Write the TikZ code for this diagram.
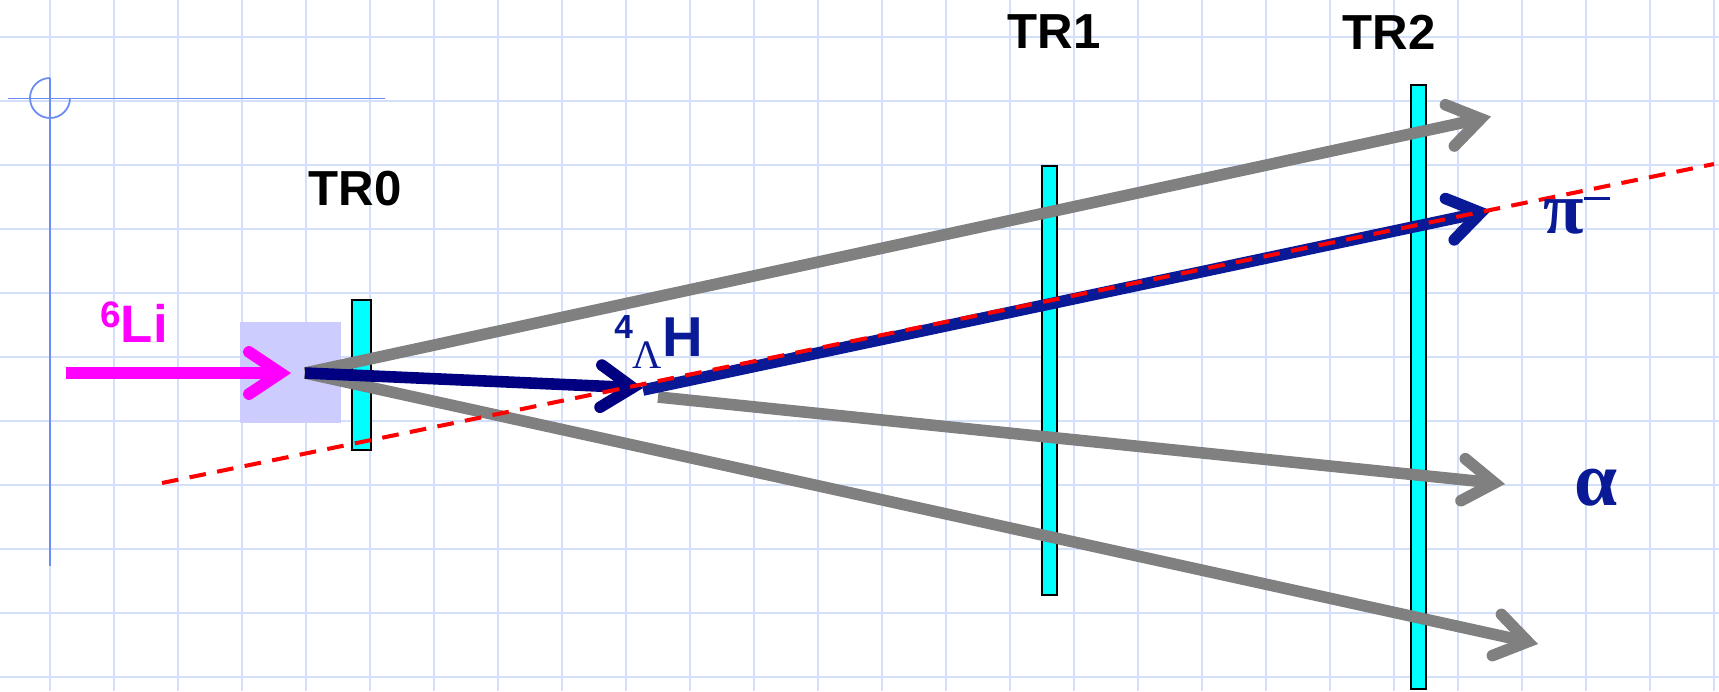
\documentclass[tikz,border=0pt]{standalone}
\usepackage{fontspec}
\setmainfont{Liberation Sans}
\newfontfamily\greekfont{Liberation Serif}
\usetikzlibrary{arrows.meta}
\definecolor{gridblue}{HTML}{D4DFFC}
\definecolor{axisblue}{HTML}{6B8CF5}
\definecolor{labelblue}{HTML}{0A1A96}
\definecolor{targetblue}{HTML}{CCCCFF}
\definecolor{foilcyan}{HTML}{00FFFF}
\definecolor{beammagenta}{HTML}{FF00FF}
\definecolor{hypernavy}{HTML}{000080}
\definecolor{fitred}{HTML}{FF0000}
\definecolor{trackgray}{HTML}{808080}
\tikzset{
  foil/.style={draw=black, line width=1.1pt, fill=foilcyan, inner sep=0pt, minimum width=0.31cm},
  track/.style={line width=6.6pt, -{Straight Barb[length=18pt, width=24pt, line cap=round]}},
  trlabel/.style={inner sep=0pt, font=\fontsize{28}{30}\selectfont\bfseries}
}
\begin{document}
\begin{tikzpicture}[x=0.02cm, y=-0.02cm]
\useasboundingbox (0,0) rectangle (1719,691);
% squared paper
\foreach \gx in {0,...,26} \draw[gridblue, line width=1.2pt] (50+64*\gx,0) -- (50+64*\gx,691);
\foreach \gy in {0,...,10} \draw[gridblue, line width=1.2pt] (0,37+64*\gy) -- (1719,37+64*\gy);
% origin mark
\draw[axisblue, line width=1pt] (8,98.5) -- (385,98.5);
\draw[axisblue, line width=1pt] (50,78) -- (50,566);
\draw[axisblue, line width=1pt] (50,78) arc[start angle=270, end angle=0, radius=20];
% target and trackers
\node[fill=targetblue, inner sep=0pt, minimum width=2.02cm, minimum height=2.02cm] (target) at (290.5,372.5) {};
\node[foil, minimum width=0.38cm, minimum height=3cm] (trzero) at (361.5,375) {};
\node[foil, minimum height=8.58cm] (trone) at (1049.5,380.5) {};
\node[foil, minimum height=12.08cm] (trtwo) at (1418.5,387) {};
\coordinate (vertex) at (305,373);
\coordinate (beamstart) at (66,373);
\coordinate (beamtip) at (291,373);
\coordinate (hypertip) at (643,388);
\coordinate (pionstart) at (643,390);
\coordinate (piontip) at (1491,210.5);
\coordinate (alphastart) at (658,397);
\coordinate (alphatip) at (1505,484);
\coordinate (uppertip) at (1491,116.5);
\coordinate (lowertip) at (1538,644);
\coordinate (fitstart) at (162,483);
\coordinate (fitend) at (1714,164);
% tracks
\draw[track, trackgray] (vertex) -- (uppertip);
\draw[track, trackgray] (vertex) -- (lowertip);
\draw[track, trackgray] (alphastart) -- (alphatip);
\draw[track, beammagenta] (beamstart) -- (beamtip);
\draw[track, labelblue] (pionstart) -- (piontip);
\draw[track, hypernavy] (vertex) -- (hypertip);
\draw[fitred, line width=2.3pt, dash pattern=on 9.5pt off 6.5pt] (fitstart) -- (fitend);
% labels
\node[trlabel] (labelzero) at (355,189) {TR0};
\node[trlabel] (labelone) at (1054,32) {TR1};
\node[trlabel] (labeltwo) at (1389,32) {TR2};
\node[trlabel, beammagenta, anchor=base west] (labelbeam) at (100,342) {\raisebox{8pt}{\fontsize{21}{22}\selectfont 6}\fontsize{30}{32}\selectfont Li};
\node[trlabel, labelblue, anchor=base west] (labelhyper) at (614,356) {\raisebox{10pt}{\fontsize{19}{20}\selectfont 4}\raisebox{-7pt}{\fontsize{23}{24}\greekfont\mdseries\selectfont Λ}\fontsize{32}{33}\selectfont H};
\node[trlabel, labelblue, font=\fontsize{42}{44}\greekfont\bfseries\selectfont, anchor=base west] (labelpion) at (1543,233) {π\raisebox{19pt}{\rule{15pt}{1.4pt}}};
\node[trlabel, labelblue, font=\fontsize{44}{46}\greekfont\bfseries\selectfont] (labelalpha) at (1596,488) {α};
\end{tikzpicture}
\end{document}
